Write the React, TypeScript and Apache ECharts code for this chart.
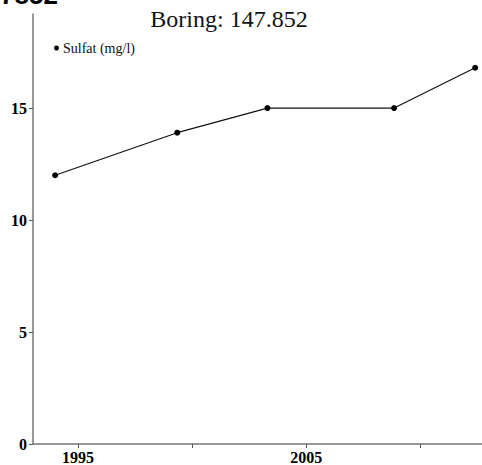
import React, { useEffect, useRef } from "react";
import * as echarts from "echarts";

const titleText = "Boring: 147.852";
const seriesName = "Sulfat (mg/l)";
const years = [1994.0, 1999.35, 2003.3, 2008.85, 2012.4];
const sulfat = [12.0, 13.9, 15.0, 15.0, 16.8];
const xTickValues = [1995, 2000, 2005, 2010];
const xLabelValues = [1995, 2005];
const yTickValues = [0, 5, 10, 15];

export default function App() {
  const ref = useRef<HTMLDivElement>(null);
  useEffect(() => {
    if (!ref.current) return;
    const chart = echarts.init(ref.current, null, { renderer: "svg" });
    const serif = "'Liberation Serif', 'Times New Roman', serif";
    chart.setOption({
      animation: false,
      backgroundColor: "#ffffff",
      title: {
        text: titleText,
        left: 224,
        textAlign: "center",
        top: 2,
        textStyle: { fontFamily: serif, fontSize: 24, fontWeight: "normal", color: "#111" },
      },
      graphic: [
        {
          type: "text",
          x: 0,
          y: 8,
          style: {
            text: "7852",
            font: "bold 26px 'Liberation Sans', Arial, sans-serif",
            fill: "#000",
            verticalAlign: "bottom",
          },
        },
      ],
      legend: {
        data: [{ name: seriesName, icon: "circle" }],
        left: 49,
        top: 36,
        itemWidth: 5,
        itemHeight: 5,
        itemGap: 4,
        textStyle: { fontFamily: serif, fontSize: 14, color: "#111", padding: [0, 0, 0, -1] },
      },
      grid: { left: 33, right: 0, top: 14, bottom: 21, containLabel: false },
      xAxis: {
        type: "value",
        min: 1993.03,
        max: 2012.7,
        splitLine: { show: false },
        axisLine: { lineStyle: { color: "#777", width: 1.5 } },
        axisTick: { customValues: xTickValues, length: 4, lineStyle: { color: "#555" } },
        axisLabel: {
          customValues: xLabelValues,
          formatter: (v: number) => String(Math.round(v)),
          margin: 5,
          fontFamily: serif,
          fontWeight: "bold",
          fontSize: 16,
          color: "#000",
        },
      },
      yAxis: {
        type: "value",
        min: 0,
        max: 19.2,
        splitLine: { show: false },
        axisLine: { show: true, lineStyle: { color: "#777", width: 1.5 } },
        axisTick: { show: true, customValues: yTickValues, length: 4, lineStyle: { color: "#555" } },
        axisLabel: {
          customValues: yTickValues,
          margin: 6,
          fontFamily: serif,
          fontWeight: "bold",
          fontSize: 16,
          color: "#000",
        },
      },
      series: [
        {
          name: seriesName,
          type: "line",
          data: years.map((y, i) => [y, sulfat[i]]),
          symbol: "circle",
          symbolSize: 6,
          itemStyle: { color: "#000" },
          lineStyle: { color: "#111", width: 1.2 },
        },
      ],
    });
    return () => chart.dispose();
  }, []);
  return <div ref={ref} style={{ width: 482, height: 465, position: "absolute", left: 0, top: 0 }} />;
}
